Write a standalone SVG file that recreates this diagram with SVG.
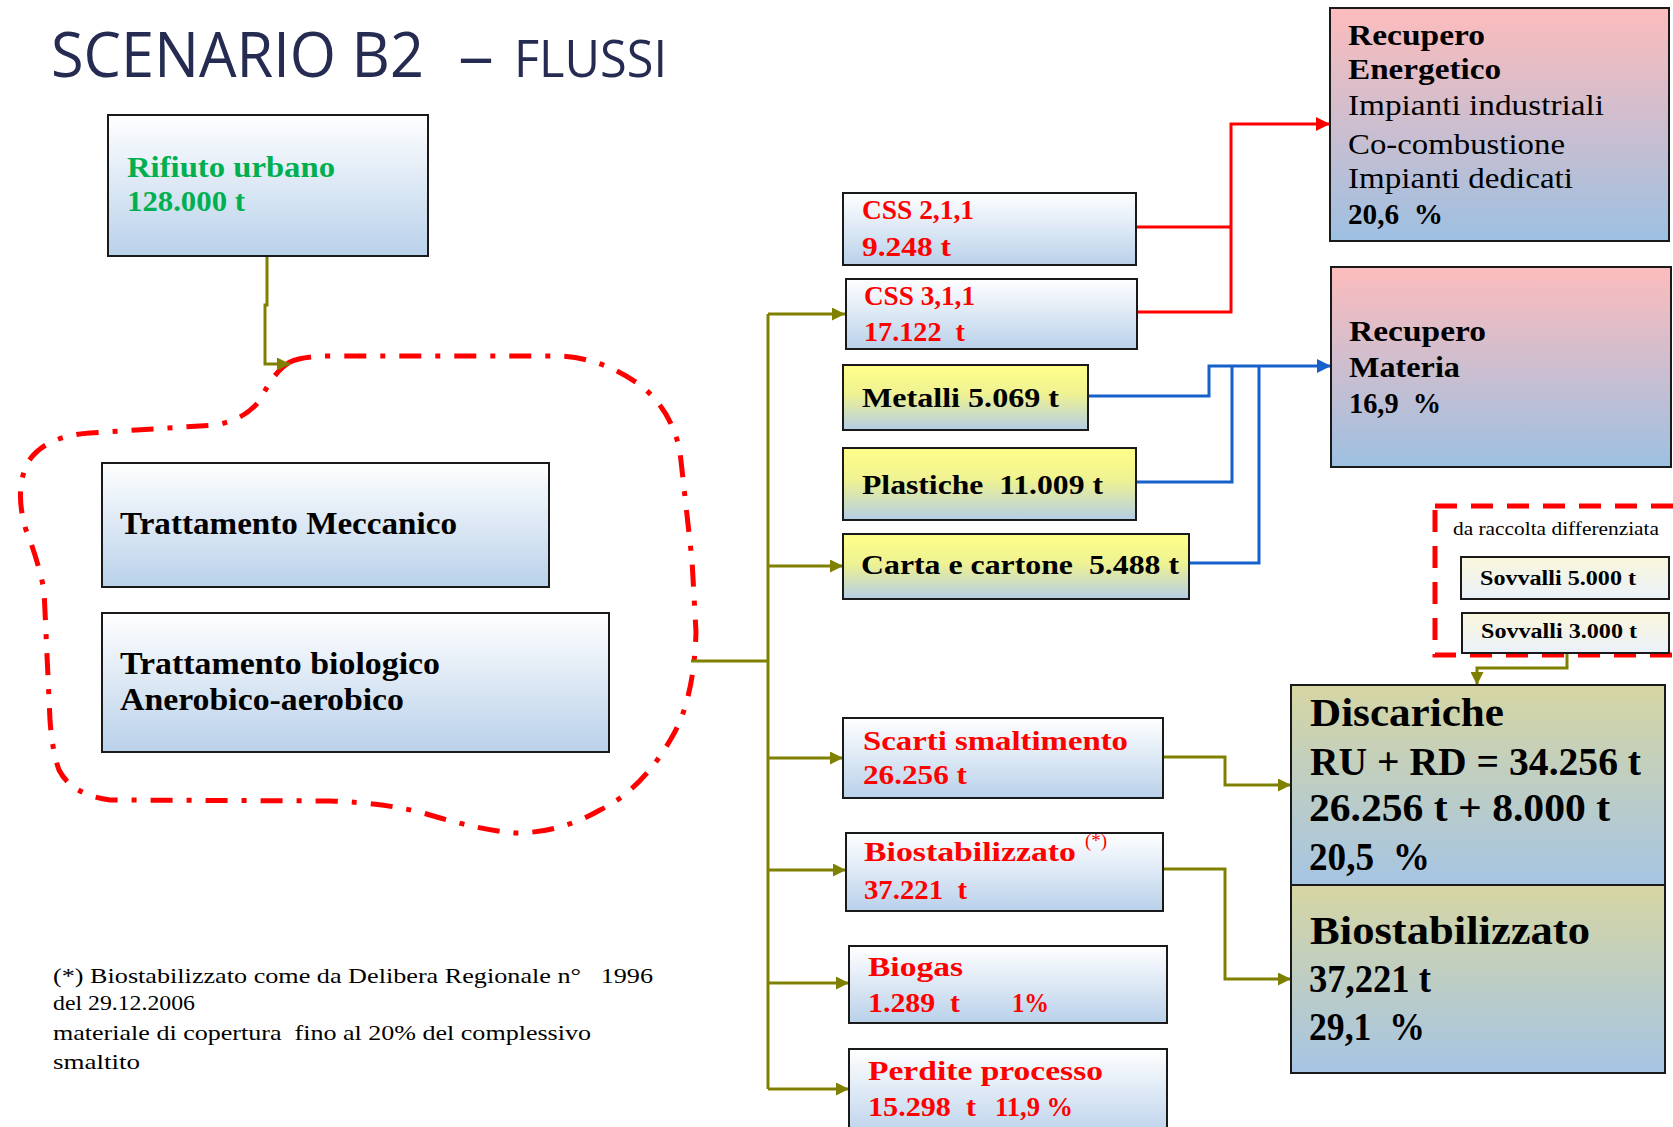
<svg xmlns="http://www.w3.org/2000/svg" width="1673" height="1127" viewBox="0 0 1673 1127">
<defs>
<style>
.box{stroke:#1a1a1a;stroke-width:2}
.t{font-family:"Liberation Serif","DejaVu Serif",serif;font-weight:bold}
.r{font-family:"Liberation Serif","DejaVu Serif",serif;font-weight:normal}
.red{fill:#FF0000}
.blk{fill:#000}
.ol{fill:none;stroke:#808000;stroke-width:3}
.rd{fill:none;stroke:#FF0000;stroke-width:3}
.bl{fill:none;stroke:#1660CC;stroke-width:3}
</style>
<linearGradient id="gW" x1="0" y1="0" x2="0" y2="1"><stop offset="0" stop-color="#FFFFFF"/><stop offset="1" stop-color="#B9D1EA"/></linearGradient>
<linearGradient id="gC" x1="0" y1="0" x2="0" y2="1"><stop offset="0" stop-color="#FAF7DC"/><stop offset="1" stop-color="#EAF1FA"/></linearGradient>
<linearGradient id="gY" x1="0" y1="0" x2="0" y2="1"><stop offset="0" stop-color="#FFFF88"/><stop offset="0.45" stop-color="#EEF292"/><stop offset="1" stop-color="#B4CDE6"/></linearGradient>
<linearGradient id="gP" x1="0" y1="0" x2="0" y2="1"><stop offset="0" stop-color="#FDBCBC"/><stop offset="1" stop-color="#9DC0E2"/></linearGradient>
<linearGradient id="gO" x1="0" y1="0" x2="0" y2="1"><stop offset="0" stop-color="#D6D6A3"/><stop offset="1" stop-color="#A6C5E4"/></linearGradient>
<marker id="aO" viewBox="0 0 10 10" refX="10" refY="5" markerWidth="13" markerHeight="13" markerUnits="userSpaceOnUse" orient="auto"><path d="M0,0 L10,5 L0,10 Z" fill="#808000"/></marker>
<marker id="aR" viewBox="0 0 10 10" refX="10" refY="5" markerWidth="14" markerHeight="14" markerUnits="userSpaceOnUse" orient="auto"><path d="M0,0 L10,5 L0,10 Z" fill="#FF0000"/></marker>
<marker id="aB" viewBox="0 0 10 10" refX="10" refY="5" markerWidth="14" markerHeight="14" markerUnits="userSpaceOnUse" orient="auto"><path d="M0,0 L10,5 L0,10 Z" fill="#1660CC"/></marker>
</defs>
<rect width="1673" height="1127" fill="#FFFFFF"/>

<g id="title">
<text x="51" y="77" font-family="'Open Sans','Liberation Sans',sans-serif" font-size="62" fill="#262B52" textLength="373" lengthAdjust="spacingAndGlyphs">SCENARIO B2</text>
<text y="77" font-family="'Open Sans','Liberation Sans',sans-serif" font-size="52" fill="#262B52"><tspan x="458" textLength="36" lengthAdjust="spacingAndGlyphs" font-size="60">–</tspan><tspan x="514" textLength="153" lengthAdjust="spacingAndGlyphs">FLUSSI</tspan></text>
</g>

<g id="cloud">
<path d="M290,362 Q302,356 332,356 L560,356 Q602,358 640,385 Q672,410 680,452 L692,560 L696,632 Q694,700 672,737 Q642,790 600,810 Q560,833 515,833 Q480,830 430,815 Q390,803 330,801 L110,800 Q72,795 59,770 Q52,750 50,720 L44,590 Q38,560 26,530 Q14,490 28,462 Q45,436 90,433 L215,425 Q245,420 260,400 Q275,370 290,362 Z" fill="none" stroke="#FF0000" stroke-width="5" stroke-dasharray="22 14 5 14"/>
</g>

<g id="connectors">
<path class="ol" d="M267,257 V305 H265 V364 H290" marker-end="url(#aO)"/>
<path class="ol" d="M691,661 H768"/>
<path class="ol" d="M768,314 V1089"/>
<path class="ol" d="M768,314 H845" marker-end="url(#aO)"/>
<path class="ol" d="M768,566 H843" marker-end="url(#aO)"/>
<path class="ol" d="M768,758 H843" marker-end="url(#aO)"/>
<path class="ol" d="M768,870 H846" marker-end="url(#aO)"/>
<path class="ol" d="M768,983 H849" marker-end="url(#aO)"/>
<path class="ol" d="M768,1089 H849" marker-end="url(#aO)"/>
<path class="ol" d="M1163,757 H1225 V785 H1291" marker-end="url(#aO)"/>
<path class="ol" d="M1163,869 H1225 V979 H1291" marker-end="url(#aO)"/>
<path class="ol" d="M1567,653 V668 H1477 V685" marker-end="url(#aO)"/>
<path class="rd" d="M1136,227 H1231"/>
<path class="rd" d="M1137,312 H1231 V124 H1330" marker-end="url(#aR)"/>
<path class="bl" d="M1088,396 H1209 V366 H1331" marker-end="url(#aB)"/>
<path class="bl" d="M1136,482 H1232 V366"/>
<path class="bl" d="M1189,563 H1259 V366"/>
</g>

<g id="rifiuto">
<rect class="box" x="108" y="115" width="320" height="141" fill="url(#gW)"/>
<text class="t" x="127" y="177" font-size="29" fill="#00B050" textLength="208" lengthAdjust="spacingAndGlyphs">Rifiuto urbano</text>
<text class="t" x="127" y="211" font-size="29" fill="#00B050" textLength="118" lengthAdjust="spacingAndGlyphs">128.000 t</text>
</g>

<g id="tratt-mecc">
<rect class="box" x="102" y="463" width="447" height="124" fill="url(#gW)"/>
<text class="t blk" x="120" y="534" font-size="32" textLength="337" lengthAdjust="spacingAndGlyphs">Trattamento Meccanico</text>
</g>

<g id="tratt-bio">
<rect class="box" x="102" y="613" width="507" height="139" fill="url(#gW)"/>
<text class="t blk" x="120" y="674" font-size="32" textLength="320" lengthAdjust="spacingAndGlyphs">Trattamento biologico</text>
<text class="t blk" x="120" y="710" font-size="32" textLength="284" lengthAdjust="spacingAndGlyphs">Anerobico-aerobico</text>
</g>

<g id="css211">
<rect class="box" x="843" y="193" width="293" height="72" fill="url(#gW)"/>
<text class="t red" x="862" y="219" font-size="28" textLength="112" lengthAdjust="spacingAndGlyphs">CSS 2,1,1</text>
<text class="t red" x="862" y="256" font-size="28" textLength="89" lengthAdjust="spacingAndGlyphs">9.248 t</text>
</g>

<g id="css311">
<rect class="box" x="846" y="279" width="291" height="70" fill="url(#gW)"/>
<text class="t red" x="864" y="305" font-size="28" textLength="111" lengthAdjust="spacingAndGlyphs">CSS 3,1,1</text>
<text class="t red" x="864" y="341" font-size="28" textLength="101" lengthAdjust="spacingAndGlyphs" xml:space="preserve">17.122  t</text>
</g>

<g id="metalli">
<rect class="box" x="843" y="365" width="245" height="65" fill="url(#gY)"/>
<text class="t blk" x="862" y="407" font-size="28" textLength="197" lengthAdjust="spacingAndGlyphs">Metalli 5.069 t</text>
</g>

<g id="plastiche">
<rect class="box" x="843" y="448" width="293" height="72" fill="url(#gY)"/>
<text class="t blk" x="862" y="494" font-size="28" textLength="241" lengthAdjust="spacingAndGlyphs" xml:space="preserve">Plastiche  11.009 t</text>
</g>

<g id="carta">
<rect class="box" x="843" y="534" width="346" height="65" fill="url(#gY)"/>
<text class="t blk" x="861" y="574" font-size="28" textLength="318" lengthAdjust="spacingAndGlyphs" xml:space="preserve">Carta e cartone  5.488 t</text>
</g>

<g id="scarti">
<rect class="box" x="843" y="718" width="320" height="80" fill="url(#gW)"/>
<text class="t red" x="863" y="750" font-size="28" textLength="265" lengthAdjust="spacingAndGlyphs">Scarti smaltimento</text>
<text class="t red" x="863" y="784" font-size="28" textLength="104" lengthAdjust="spacingAndGlyphs">26.256 t</text>
</g>

<g id="biostab-mid">
<rect class="box" x="846" y="833" width="317" height="78" fill="url(#gW)"/>
<text class="t red" x="864" y="861" font-size="28" textLength="212" lengthAdjust="spacingAndGlyphs">Biostabilizzato</text>
<text class="r red" x="1085" y="847" font-size="18" textLength="22" lengthAdjust="spacingAndGlyphs">(*)</text>
<text class="t red" x="864" y="899" font-size="28" textLength="103" lengthAdjust="spacingAndGlyphs" xml:space="preserve">37.221  t</text>
</g>

<g id="biogas">
<rect class="box" x="849" y="946" width="318" height="77" fill="url(#gW)"/>
<text class="t red" x="868" y="976" font-size="28" textLength="95" lengthAdjust="spacingAndGlyphs">Biogas</text>
<text class="t red" y="1012" font-size="28" xml:space="preserve"><tspan x="868" textLength="92" lengthAdjust="spacingAndGlyphs">1.289  t</tspan><tspan x="1012" textLength="37" lengthAdjust="spacingAndGlyphs">1%</tspan></text>
</g>

<g id="perdite">
<rect class="box" x="849" y="1049" width="318" height="90" fill="url(#gW)"/>
<text class="t red" x="868" y="1080" font-size="28" textLength="235" lengthAdjust="spacingAndGlyphs">Perdite processo</text>
<text class="t red" y="1116" font-size="28" xml:space="preserve"><tspan x="868" textLength="108" lengthAdjust="spacingAndGlyphs">15.298  t</tspan><tspan x="995" textLength="78" lengthAdjust="spacingAndGlyphs">11,9 %</tspan></text>
</g>

<g id="rec-energetico">
<rect class="box" x="1330" y="8" width="339" height="233" fill="url(#gP)"/>
<text class="t blk" x="1348" y="45" font-size="29" textLength="137" lengthAdjust="spacingAndGlyphs">Recupero</text>
<text class="t blk" x="1348" y="79" font-size="29" textLength="153" lengthAdjust="spacingAndGlyphs">Energetico</text>
<text class="r blk" x="1348" y="115" font-size="29" textLength="256" lengthAdjust="spacingAndGlyphs">Impianti industriali</text>
<text class="r blk" x="1348" y="154" font-size="29" textLength="217" lengthAdjust="spacingAndGlyphs">Co-combustione</text>
<text class="r blk" x="1348" y="188" font-size="29" textLength="225" lengthAdjust="spacingAndGlyphs">Impianti dedicati</text>
<text class="t blk" x="1348" y="224" font-size="29" textLength="95" lengthAdjust="spacingAndGlyphs" xml:space="preserve">20,6  %</text>
</g>

<g id="rec-materia">
<rect class="box" x="1331" y="267" width="340" height="200" fill="url(#gP)"/>
<text class="t blk" x="1349" y="341" font-size="29" textLength="137" lengthAdjust="spacingAndGlyphs">Recupero</text>
<text class="t blk" x="1349" y="377" font-size="29" textLength="111" lengthAdjust="spacingAndGlyphs">Materia</text>
<text class="t blk" x="1349" y="413" font-size="29" textLength="92" lengthAdjust="spacingAndGlyphs" xml:space="preserve">16,9  %</text>
</g>

<g id="raccolta-diff">
<rect x="1435" y="506" width="260" height="149" fill="none" stroke="#FF0000" stroke-width="5" stroke-dasharray="22 14"/>
<text class="r blk" x="1453" y="535" font-size="18" textLength="206" lengthAdjust="spacingAndGlyphs">da raccolta differenziata</text>
</g>

<g id="sovvalli5">
<rect class="box" x="1461" y="557" width="208" height="42" fill="url(#gC)"/>
<text class="t blk" x="1480" y="585" font-size="20" textLength="156" lengthAdjust="spacingAndGlyphs">Sovvalli 5.000 t</text>
</g>

<g id="sovvalli3">
<rect class="box" x="1462" y="613" width="207" height="40" fill="url(#gC)"/>
<text class="t blk" x="1481" y="638" font-size="20" textLength="156" lengthAdjust="spacingAndGlyphs">Sovvalli 3.000 t</text>
</g>

<g id="discariche">
<rect class="box" x="1291" y="685" width="374" height="200" fill="url(#gO)"/>
<text class="t blk" x="1310" y="726" font-size="40" textLength="194" lengthAdjust="spacingAndGlyphs">Discariche</text>
<text class="t blk" x="1310" y="775" font-size="40" textLength="331" lengthAdjust="spacingAndGlyphs">RU + RD = 34.256 t</text>
<text class="t blk" x="1309" y="821" font-size="40" textLength="301" lengthAdjust="spacingAndGlyphs">26.256 t + 8.000 t</text>
<text class="t blk" x="1309" y="870" font-size="40" textLength="121" lengthAdjust="spacingAndGlyphs" xml:space="preserve">20,5  %</text>
</g>

<g id="biostab-right">
<rect class="box" x="1291" y="885" width="374" height="188" fill="url(#gO)"/>
<text class="t blk" x="1310" y="944" font-size="40" textLength="280" lengthAdjust="spacingAndGlyphs">Biostabilizzato</text>
<text class="t blk" x="1309" y="992" font-size="40" textLength="122" lengthAdjust="spacingAndGlyphs">37,221 t</text>
<text class="t blk" x="1309" y="1040" font-size="40" textLength="116" lengthAdjust="spacingAndGlyphs" xml:space="preserve">29,1  %</text>
</g>

<g id="footnote">
<text class="r blk" x="53" y="983" font-size="22" textLength="600" lengthAdjust="spacingAndGlyphs" xml:space="preserve">(*) Biostabilizzato come da Delibera Regionale n°   1996</text>
<text class="r blk" x="53" y="1010" font-size="22" textLength="142" lengthAdjust="spacingAndGlyphs">del 29.12.2006</text>
<text class="r blk" x="53" y="1040" font-size="22" textLength="538" lengthAdjust="spacingAndGlyphs" xml:space="preserve">materiale di copertura  fino al 20% del complessivo</text>
<text class="r blk" x="53" y="1069" font-size="22" textLength="87" lengthAdjust="spacingAndGlyphs">smaltito</text>
</g>
</svg>
